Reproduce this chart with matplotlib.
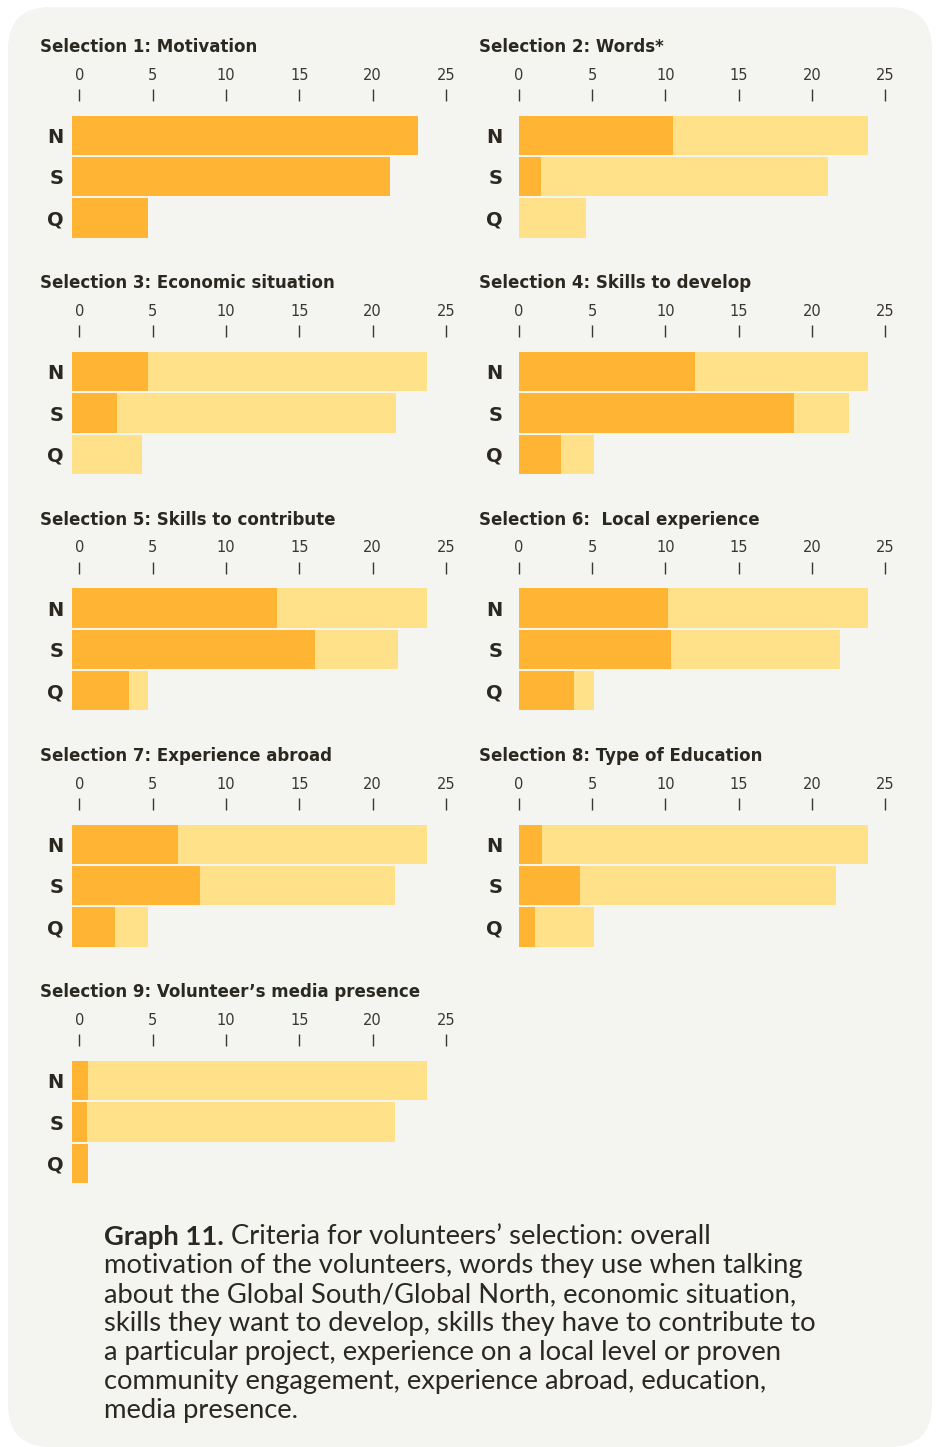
import matplotlib
matplotlib.use("Agg")
import matplotlib.pyplot as plt
from matplotlib.patches import FancyBboxPatch

# ---------------- data ----------------
titles = [
    "Selection 1: Motivation",
    "Selection 2: Words*",
    "Selection 3: Economic situation",
    "Selection 4: Skills to develop",
    "Selection 5: Skills to contribute",
    "Selection 6:  Local experience",
    "Selection 7: Experience abroad",
    "Selection 8: Type of Education",
    "Selection 9: Volunteer\u2019s media presence",
]
categories = ["N", "S", "Q"]
selected_1 = [23.6, 21.7, 5.2]
total_1 = [23.6, 21.7, 5.2]
selected_2 = [10.5, 1.5, 0.0]
total_2 = [23.8, 21.1, 4.6]
selected_3 = [5.2, 3.1, 0.0]
total_3 = [24.2, 22.1, 4.8]
selected_4 = [12.0, 18.8, 2.9]
total_4 = [23.8, 22.5, 5.1]
selected_5 = [14.0, 16.6, 3.9]
total_5 = [24.2, 22.2, 5.2]
selected_6 = [10.2, 10.4, 3.8]
total_6 = [23.8, 21.9, 5.1]
selected_7 = [7.2, 8.7, 2.9]
total_7 = [24.2, 22.0, 5.2]
selected_8 = [1.6, 4.2, 1.1]
total_8 = [23.8, 21.6, 5.1]
selected_9 = [1.1, 1.0, 1.1]
total_9 = [24.2, 22.0, 1.1]
tick_values = [0, 5, 10, 15, 20, 25]

selected = [selected_1, selected_2, selected_3, selected_4, selected_5,
            selected_6, selected_7, selected_8, selected_9]
totals = [total_1, total_2, total_3, total_4, total_5,
          total_6, total_7, total_8, total_9]

caption_bold = "Graph 11."
caption_line1 = " Criteria for volunteers\u2019 selection: overall"
caption_rest = [
    "motivation of the volunteers, words they use when talking",
    "about the Global South/Global North, economic situation,",
    "skills they want to develop, skills they have to contribute to",
    "a particular project, experience on a local level or proven",
    "community engagement, experience abroad, education,",
    "media presence.",
]

# ---------------- style ----------------
DARK = "#FFB533"
LIGHT = "#FFE189"
CARD = "#F4F4F0"
TXT = "#2B2822"
TICK = "#3A3733"
HEAD_FONT = ["DejaVu Sans"]
CAP_FONT = ["Lato", "DejaVu Sans"]
plt.rcParams["font.family"] = HEAD_FONT

W, H = 941, 1447
fig = plt.figure(figsize=(W / 100, H / 100), dpi=100)
fig.patch.set_facecolor("white")

card = FancyBboxPatch((8 / W, 0 / H), (932 - 8) / W, (1440 - 0) / H,
                      boxstyle="round,pad=0,rounding_size=0.045",
                      transform=fig.transFigure, facecolor=CARD,
                      edgecolor="none", zorder=0,
                      mutation_aspect=W / H)
fig.add_artist(card)


def rect(x0, top, w, h):
    return [x0 / W, 1 - (top + h) / H, w / W, h / H]


renderer = fig.canvas.get_renderer()


def fit_size(text, target_px, base=10.0, **kw):
    t = fig.text(0, 0, text, fontsize=base, **kw)
    w = t.get_window_extent(renderer=renderer).width
    t.remove()
    return base * target_px / w


title_size = fit_size(titles[0], 218, fontweight="bold", family=HEAD_FONT)

scale = 14.67          # px per unit
col_zero = [79.3, 518.7]
col_title_x = [40.5, 479.3]
col_bar_start = [-0.5, 0.0]
row_pitch = 236.3
pitch_px = 41.3

for i in range(9):
    r, c = divmod(i, 2)
    B = row_pitch * r
    ax_top = 101 + B
    ax_bot = 240 + B
    n_center = 135.5 + B
    y_top = -(n_center - ax_top) / pitch_px
    y_bot = 2 + (ax_bot - (n_center + 2 * pitch_px)) / pitch_px
    x0 = col_zero[c] - 1 * scale
    ax = fig.add_axes(rect(x0, ax_top, 27 * scale, ax_bot - ax_top))
    ax.set_facecolor("none")
    ax.set_xlim(-1, 26)
    ax.set_ylim(y_bot, y_top)
    ypos = list(range(len(categories)))
    start = col_bar_start[c]
    ax.barh(ypos, totals[i], left=start, height=0.95, color=LIGHT, zorder=2)
    ax.barh(ypos, selected[i], left=start, height=0.95, color=DARK, zorder=3)
    for s in ax.spines.values():
        s.set_visible(False)
    ax.xaxis.tick_top()
    ax.set_xticks(tick_values)
    ax.set_xticklabels([str(v) for v in tick_values])
    ax.tick_params(axis="x", direction="out", length=8.6, width=1.0,
                   color=TICK, pad=4.5, labelsize=10.5, labelcolor=TICK)
    for lab in ax.get_xticklabels():
        lab.set_fontweight("normal")
    ax.set_yticks(ypos)
    ax.set_yticklabels(categories)
    ax.tick_params(axis="y", length=0, pad=1.0, labelsize=14,
                   labelcolor=TXT)
    for lab in ax.get_yticklabels():
        lab.set_fontweight("bold")

    fig.text(col_title_x[c] / W, 1 - (47 + B) / H, titles[i],
             ha="left", va="center", fontsize=title_size, fontweight="bold",
             color=TXT)

# ---------------- caption ----------------
cap_size = fit_size(caption_rest[2], 715, family=CAP_FONT)
line_h = 28.9
cx = 104 / W
cy0 = 1237
tb = fig.text(cx, 1 - cy0 / H, caption_bold, ha="left", va="center",
              fontsize=cap_size, fontweight="bold", color=TXT,
              family=CAP_FONT)
bb = tb.get_window_extent(renderer=renderer)
fig.text(bb.x1 / W, 1 - cy0 / H, caption_line1, ha="left", va="center",
         fontsize=cap_size, color=TXT, family=CAP_FONT)
for k, line in enumerate(caption_rest):
    fig.text(cx, 1 - (cy0 + (k + 1) * line_h) / H, line, ha="left",
             va="center", fontsize=cap_size, color=TXT, family=CAP_FONT)

fig.savefig("out.png", dpi=100, facecolor="white")
